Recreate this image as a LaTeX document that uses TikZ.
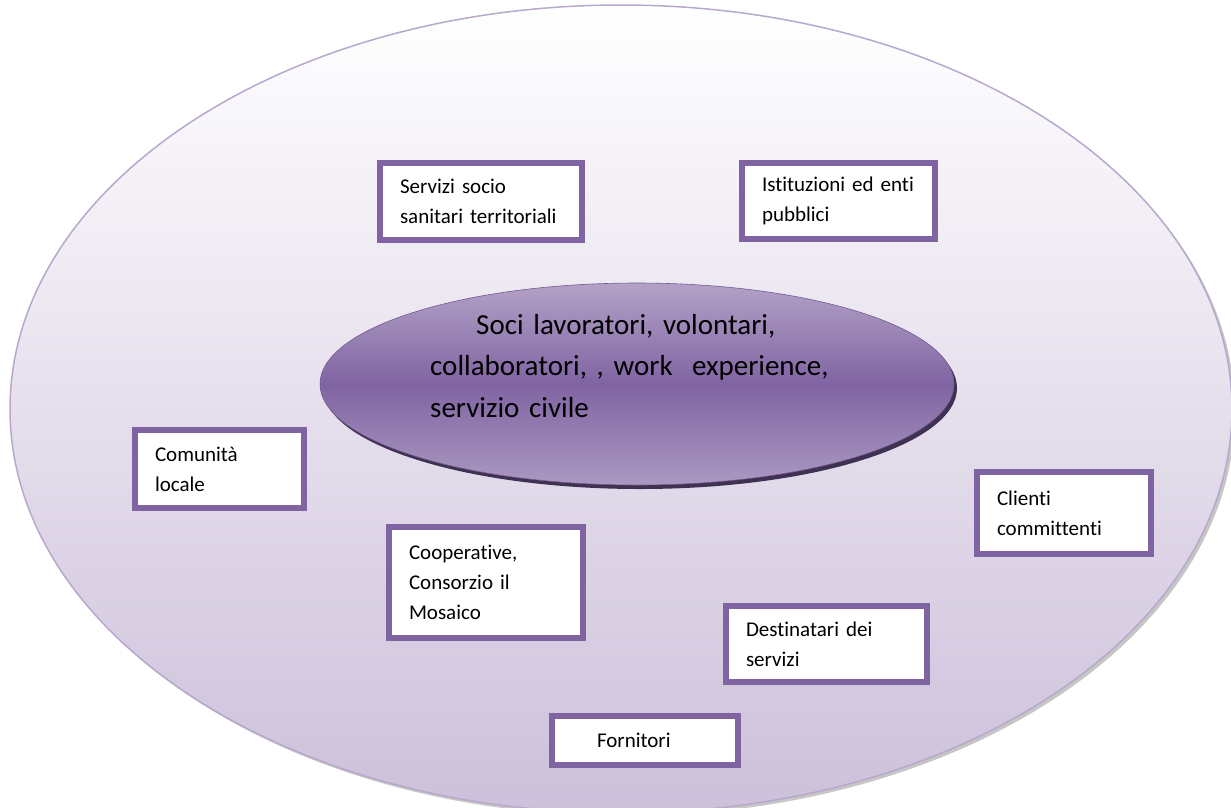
\documentclass[tikz,border=0pt]{standalone}
\usepackage{fontspec}
\setmainfont{Carlito}[Ligatures=NoCommon]
\usetikzlibrary{shapes.geometric}
\definecolor{pur}{HTML}{8064A2}
\definecolor{purlt}{HTML}{B3A2C7}
\definecolor{purbg}{HTML}{CCC0DA}
\definecolor{purdk}{HTML}{3F3151}
\definecolor{rimc}{HTML}{B7A8CC}
\tikzset{
  boxnode/.style={draw=pur, line width=6pt, fill=white, rectangle, align=left,
    inner xsep=20pt, inner ysep=0pt, font=\fontsize{21}{30}\selectfont},
  coreshape/.style={ellipse, inner sep=0pt, minimum width=634pt, minimum height=202pt,
    top color=purlt, bottom color=purlt!85!pur, middle color=pur, draw=pur!90!black, line width=0.6pt},
}
\begin{document}
\begin{tikzpicture}[x=1pt,y=1pt]
\useasboundingbox (0,0) rectangle (1231,-807);
\clip (0,0) rectangle (1231,-807);
% outer ellipse with soft shadow
\fill[gray!45] (624,-412) ellipse [x radius=611, y radius=404];
\shade[top color=white, bottom color=purbg, draw=rimc, line width=1.5pt]
  (621,-409) ellipse [x radius=611, y radius=404];
% central ellipse
\fill[purdk] (640,-388) ellipse [x radius=317, y radius=101];
\node[coreshape] (core) at (637,-384) {};
\node[anchor=north west, inner sep=0pt, text width=440pt, align=left,
  font=\fontsize{29}{41.5}\selectfont] (coretxt) at (430,-314)
  {\hspace*{46pt}Soci lavoratori, volontari,\\collaboratori, , work\ \ experience,\\servizio civile};
% boxes
\node[boxnode, minimum width=202pt, minimum height=77pt, text width=162pt] (sst) at (481,-201.5)
  {Servizi socio\\sanitari territoriali};
\node[boxnode, minimum width=193pt, minimum height=76pt, text width=153pt] (ist) at (838.5,-201)
  {Istituzioni ed enti\\pubblici};
\node[boxnode, minimum width=169pt, minimum height=78pt, text width=129pt] (com) at (219.5,-469)
  {Comunità\\locale};
\node[boxnode, minimum width=174pt, minimum height=82pt, text width=134pt] (cli) at (1064,-513)
  {Clienti\\committenti};
\node[boxnode, minimum width=194pt, minimum height=111pt, text width=154pt] (coop) at (486,-582.5)
  {Cooperative,\\Consorzio il\\Mosaico};
\node[boxnode, minimum width=201pt, minimum height=76pt, text width=161pt] (dest) at (826.5,-644)
  {Destinatari dei\\servizi};
\node[boxnode, minimum width=186pt, minimum height=49pt, text width=96pt, inner xsep=45pt] (forn) at (645,-740.5)
  {Fornitori};
\end{tikzpicture}
\end{document}
